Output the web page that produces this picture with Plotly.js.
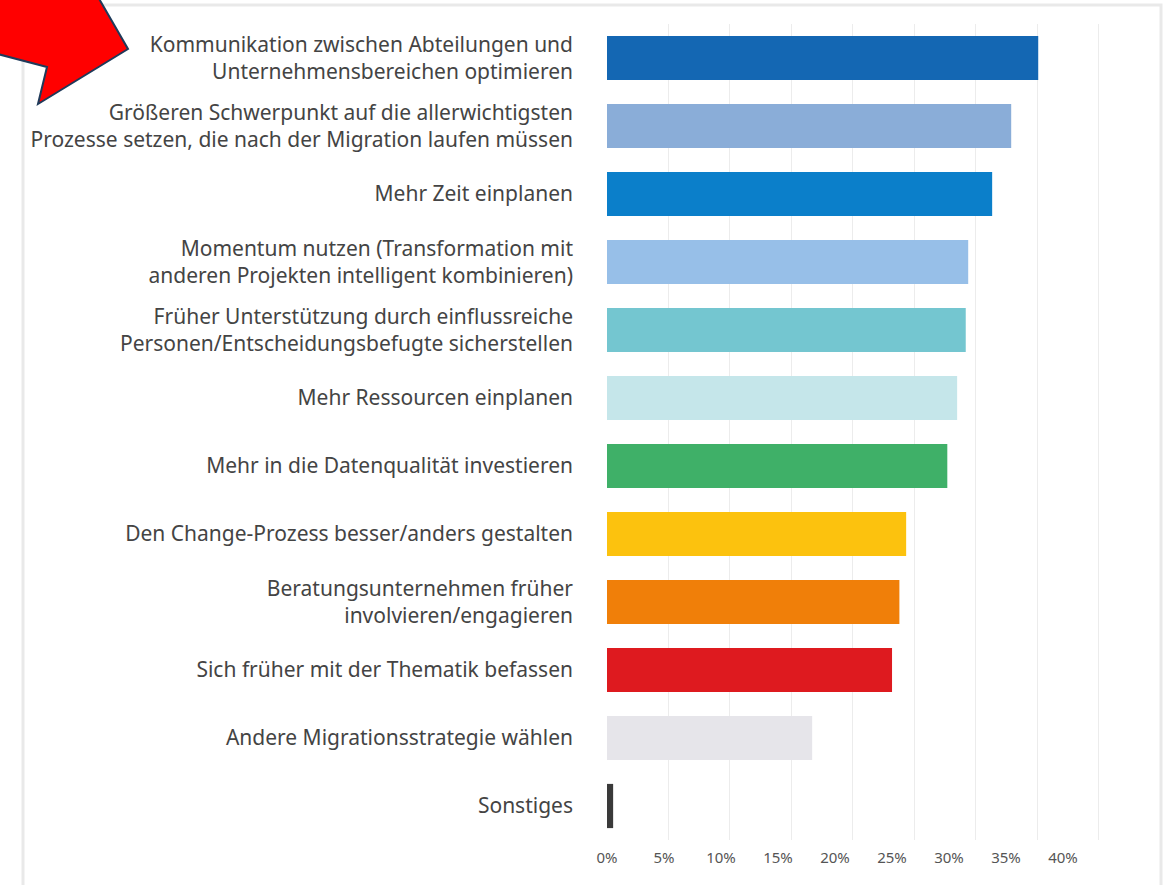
<!DOCTYPE html>
<html>
<head>
<meta charset="utf-8">
<script src="https://cdn.plot.ly/plotly-3.0.1.min.js"></script>
<style>
  html, body { margin: 0; padding: 0; background: #ffffff; }
  #chart { width: 1167px; height: 885px; }
</style>
</head>
<body>
<div id="chart"></div>
<script>
const categories = [
  "Kommunikation zwischen Abteilungen und<br>Unternehmensbereichen optimieren",
  "Größeren Schwerpunkt auf die allerwichtigsten<br>Prozesse setzen, die nach der Migration laufen müssen",
  "Mehr Zeit einplanen",
  "Momentum nutzen (Transformation mit<br>anderen Projekten intelligent kombinieren)",
  "Früher Unterstützung durch einflussreiche<br>Personen/Entscheidungsbefugte sicherstellen",
  "Mehr Ressourcen einplanen",
  "Mehr in die Datenqualität investieren",
  "Den Change-Prozess besser/anders gestalten",
  "Beratungsunternehmen früher<br>involvieren/engagieren",
  "Sich früher mit der Thematik befassen",
  "Andere Migrationsstrategie wählen",
  "Sonstiges"
];
const values = [35.1, 32.9, 31.35, 29.4, 29.2, 28.5, 27.7, 24.35, 23.8, 23.2, 16.7, 0.5];
const colors = ["#1467b3", "#8aadd8", "#0b7fca", "#97bfe8", "#74c6d0", "#c5e6ea",
                "#3fb068", "#fcc20e", "#f07f09", "#de1a1f", "#e6e5ea", "#3a3a3a"];
const tickValues = [0, 5, 10, 15, 20, 25, 30, 35, 40];
const tickLabels = ["0%", "5%", "10%", "15%", "20%", "25%", "30%", "35%", "40%"];

// layout geometry (pixels)
const W = 1167, H = 885;
const M = { l: 607, r: 44, t: 24, b: 45 };
const plotW = W - M.l - M.r, plotH = H - M.t - M.b;
const px = x => (x - M.l) / plotW;
const py = y => (H - M.b - y) / plotH;

// decorative red arrow (pixel outline)
const arrowPts = [[128, 49], [38, 104], [47, 67], [-10, 52], [-10, -10], [94, -10]];
const arrowPath = arrowPts.map((p, i) => (i ? 'L' : 'M') + px(p[0]) + ',' + py(p[1])).join(' ') + ' Z';

const trace = {
  type: 'bar',
  orientation: 'h',
  x: values,
  y: categories,
  marker: { color: colors },
  width: 0.65,
  hoverinfo: 'x+y'
};

const layout = {
  width: W, height: H,
  margin: M,
  paper_bgcolor: '#ffffff',
  plot_bgcolor: '#ffffff',
  showlegend: false,
  font: { family: 'Noto Sans, Open Sans, sans-serif', color: '#444444' },
  xaxis: {
    range: [0, 42],
    tickvals: tickValues,
    showticklabels: false,
    showgrid: true,
    gridcolor: '#ececec',
    gridwidth: 1,
    zeroline: false,
    showline: false,
    fixedrange: true
  },
  xaxis2: {
    overlaying: 'x',
    side: 'bottom',
    range: [0, plotW / 11.4],
    tickvals: tickValues,
    ticktext: tickLabels,
    showgrid: false,
    zeroline: false,
    showline: false,
    ticks: 'outside',
    ticklen: 4,
    tickcolor: 'rgba(0,0,0,0)',
    tickfont: { size: 15, color: '#555555' },
    fixedrange: true
  },
  yaxis: {
    type: 'category',
    range: [11.5, -0.5],
    autorange: false,
    showgrid: false,
    zeroline: false,
    showline: false,
    ticks: '',
    ticklabelstandoff: 33,
    tickfont: { size: 21, color: '#444444' },
    fixedrange: true
  },
  shapes: [
    {
      type: 'rect', xref: 'paper', yref: 'paper', layer: 'below',
      x0: px(23), x1: px(1161), y0: py(5), y1: py(900),
      line: { color: '#e9e9e9', width: 3 },
      fillcolor: 'rgba(0,0,0,0)'
    },
    {
      type: 'path', xref: 'paper', yref: 'paper', layer: 'above',
      path: arrowPath,
      fillcolor: '#ff0000',
      line: { color: '#1f3a5a', width: 2 }
    }
  ]
};

// invisible trace to activate xaxis2 for tick labels
const axisTrace = {
  type: 'scatter', mode: 'markers', xaxis: 'x2', yaxis: 'y',
  x: [0], y: [categories[0]], marker: { opacity: 0 }, hoverinfo: 'skip', showlegend: false
};

Plotly.newPlot('chart', [trace, axisTrace], layout, { displayModeBar: false, staticPlot: true });
</script>
</body>
</html>
